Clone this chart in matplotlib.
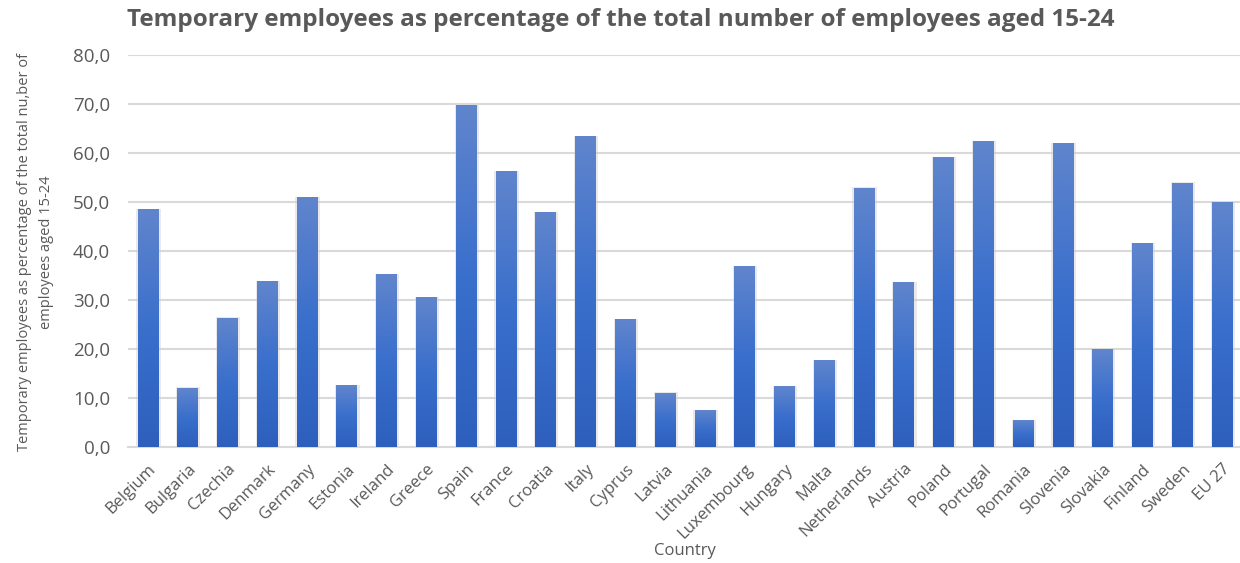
import matplotlib.pyplot as plt
import numpy as np
from matplotlib.colors import LinearSegmentedColormap
from matplotlib.patches import Rectangle

countries = ['Belgium', 'Bulgaria', 'Czechia', 'Denmark', 'Germany', 'Estonia',
             'Ireland', 'Greece', 'Spain', 'France', 'Croatia', 'Italy', 'Cyprus',
             'Latvia', 'Lithuania', 'Luxembourg', 'Hungary', 'Malta', 'Netherlands',
             'Austria', 'Poland', 'Portugal', 'Romania', 'Slovenia', 'Slovakia',
             'Finland', 'Sweden', 'EU 27']
temp_share = [48.4, 12.0, 26.3, 33.7, 50.8, 12.6, 35.2, 30.5, 69.7, 56.2, 47.8,
              63.3, 26.0, 11.0, 7.4, 36.8, 12.3, 17.6, 52.8, 33.5, 59.1, 62.2,
              5.4, 61.8, 19.8, 41.5, 53.8, 49.9]
y_ticks = [0, 10, 20, 30, 40, 50, 60, 70, 80]
y_label_lines = ['Temporary employees as percentage of the total nu,ber of',
                 'employees aged 15-24']

plt.rcParams['font.family'] = ['Open Sans', 'DejaVu Sans']
grey = '#595959'

# bottom -> middle -> top shading of each column
grad = LinearSegmentedColormap.from_list('colgrad', ['#2e5fbd', '#3a6fcc', '#6085cc'])
grad_img = np.linspace(0, 1, 256).reshape(-1, 1)

fig = plt.figure(figsize=(12.4, 5.63), dpi=100)
ax = fig.add_axes([128 / 1240, 1 - 447.3 / 563, 1114 / 1240, (447.3 - 55) / 563])

width = 0.52
x = np.arange(len(countries))
for xi, v in zip(x, temp_share):
    # soft shadow around the column
    ax.add_patch(Rectangle((xi - width / 2 - 0.03, 0), width + 0.09, v + 0.2,
                           facecolor='#d0d0d0', edgecolor='none', alpha=0.45, zorder=2))
    ax.imshow(grad_img, cmap=grad, origin='lower', aspect='auto',
              extent=(xi - width / 2, xi + width / 2, 0, v), zorder=3,
              interpolation='bilinear')

ax.set_xlim(-0.5, len(countries) - 0.5)
ax.set_ylim(0, 80)
ax.set_yticks(y_ticks)
ax.set_yticklabels([f'{t:.1f}'.replace('.', ',') for t in y_ticks], fontsize=13.5, color=grey)
ax.set_xticks(x)
ax.set_xticklabels(countries, rotation=45, ha='right', rotation_mode='anchor',
                   fontsize=12, color=grey)
ax.tick_params(axis='both', length=0)
ax.tick_params(axis='y', pad=13)
ax.tick_params(axis='x', pad=10)

ax.grid(axis='y', color='#d9d9d9', linewidth=1.5)
ax.set_axisbelow(True)
for side in ['top', 'right', 'left']:
    ax.spines[side].set_visible(False)
ax.spines['bottom'].set_color('#d9d9d9')
ax.spines['bottom'].set_linewidth(1.5)

fig.text(621 / 1240, 1 - 20 / 563, 'Temporary employees as percentage of the total number of employees aged 15-24',
         ha='center', va='center', fontsize=17.5, fontweight='bold', color=grey)
fig.text(685 / 1240, 1 - 551 / 563, 'Country', ha='center', va='center', fontsize=12, color=grey)
# two-line vertical axis title, each line centred on the plot height
for xpos, line in zip([25, 47], y_label_lines):
    fig.text(xpos / 1240, 1 - 252 / 563, line, ha='center', va='center',
             rotation=90, fontsize=10.5, color=grey)

plt.savefig('out.png')
